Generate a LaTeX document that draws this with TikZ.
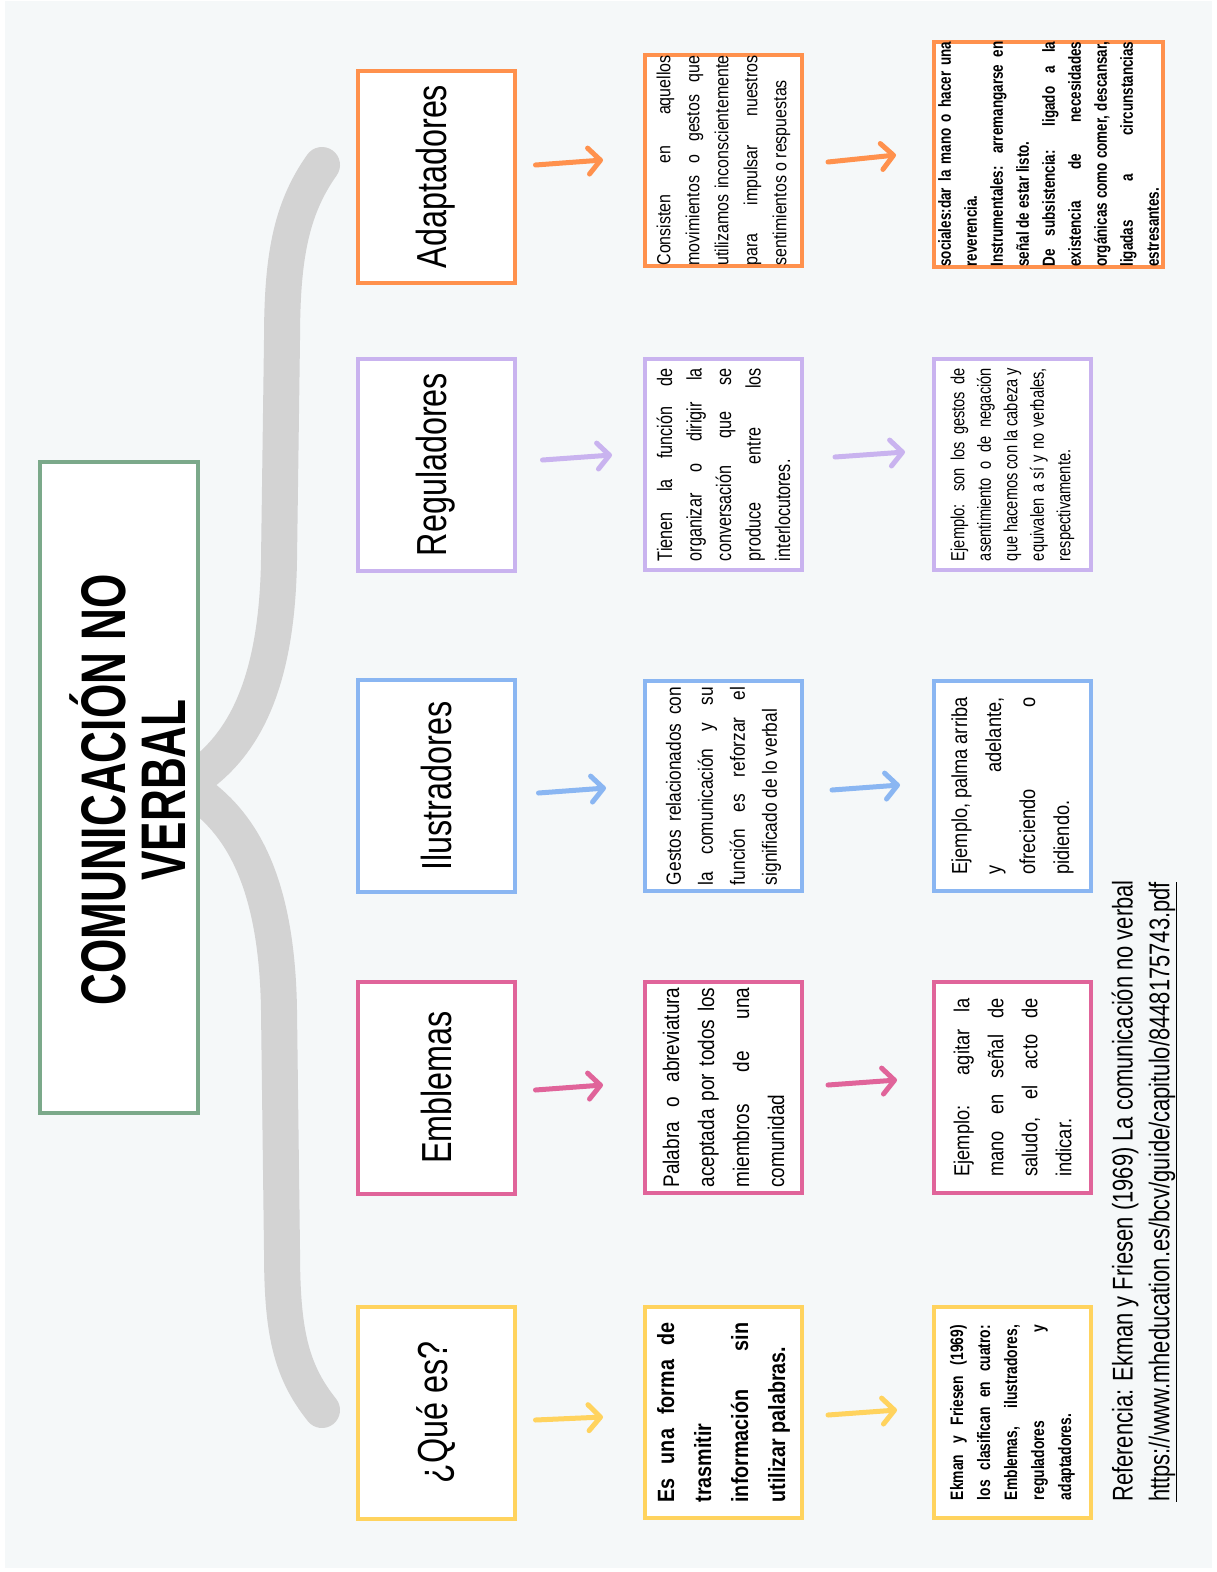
\documentclass[tikz,border=0pt]{standalone}
\usepackage{fontspec}
\usetikzlibrary{arrows.meta,calc}
\newfontfamily\condf[FakeStretch=0.77]{Liberation Sans}
\newfontfamily\bodyf[FakeStretch=0.84]{Liberation Sans}
\newfontfamily\titlef[FakeStretch=0.70]{Liberation Sans}
\definecolor{bgc}{HTML}{F5F8F9}
\definecolor{braceg}{HTML}{D3D3D3}
\definecolor{cor}{HTML}{FF914D}
\definecolor{clav}{HTML}{C9B3EF}
\definecolor{cblu}{HTML}{8AB6F2}
\definecolor{cpin}{HTML}{E0649A}
\definecolor{cyel}{HTML}{FFD35E}
\definecolor{cgrn}{HTML}{7BA98A}
\newcommand\JU[2]{\makebox[#1pt][s]{#2}}
\newcommand\LE[2]{\makebox[#1pt][l]{#2}}
\tikzset{
  hbox/.style={draw=#1, line width=4pt, fill=white, rotate=90, inner sep=0pt,
    minimum width=212pt, minimum height=157pt, font=\condf\fontsize{42}{50}\selectfont},
  tbox/.style={draw=#1, line width=4pt, fill=white, rotate=90, inner sep=0pt, align=left},
  arr/.style={draw=#1, line width=5pt, line cap=round,
    -{Straight Barb[round,length=12pt,width=26pt]}},
  brace/.style={draw=braceg, line width=36pt, line cap=round},
}
\begin{document}
\begin{tikzpicture}[x=1pt,y=-1pt]
\useasboundingbox (0,0) rectangle (1216,1572);
\fill[white] (0,0) rectangle (1216,1572);
\fill[bgc] (5,1) rectangle (1212,1568);
% brace
\draw[brace] (322,165) .. controls (290,210) and (282,260) .. (282,340) -- (279,560) .. controls (277,690) and (240,745) .. (200,775);
\draw[brace] (200,795) .. controls (240,825) and (277,880) .. (279,1010) -- (282,1250) .. controls (282,1330) and (290,1370) .. (322,1410);
% title
\node[draw=cgrn, line width=4pt, fill=white, minimum width=158pt, minimum height=651pt, inner sep=0pt] (titlebox) at (119,787.5) {};
\node[rotate=90, align=center, inner sep=0pt, font=\titlef\bfseries\fontsize{63}{60}\selectfont] (title) at (128,790)
  {COMUNICACIÓN NO\\VERBAL};
% column 1
\node[hbox=cor] (h1) at (436,176.5) {Adaptadores};
\node[hbox=clav] (h2) at (436,464.5) {Reguladores};
\node[hbox=cblu] (h3) at (436,786) {Ilustradores};
\node[hbox=cpin] (h4) at (436,1087.5) {Emblemas};
\node[hbox=cyel] (h5) at (436,1412.5) {¿Qué es?};
% column 2
\node[tbox=cor, minimum width=211pt, minimum height=157pt, font=\bodyf\fontsize{19}{29}\selectfont] (d1) at (723.5,160.5)
 {\JU{210}{Consisten en aquellos}\\\JU{210}{movimientos o gestos que}\\\JU{210}{utilizamos inconscientemente}\\\JU{210}{para impulsar nuestros}\\\LE{210}{sentimientos o respuestas}};
\node[tbox=clav, minimum width=211pt, minimum height=157pt, font=\condf\fontsize{21}{29.5}\selectfont] (d2) at (723.5,464.5)
 {\JU{193}{Tienen la función de}\\\JU{193}{organizar o dirigir la}\\\JU{193}{conversación que se}\\\JU{193}{produce entre los}\\\LE{193}{interlocutores.}};
\node[tbox=cblu, minimum width=210pt, minimum height=157pt, font=\bodyf\fontsize{20.6}{32}\selectfont] (d3) at (723.5,786)
 {\JU{198}{Gestos relacionados con}\\\JU{198}{la comunicación y su}\\\JU{198}{función es reforzar el}\\\LE{198}{significado de lo verbal}};
\node[tbox=cpin, minimum width=211pt, minimum height=157pt, font=\bodyf\fontsize{22.6}{35}\selectfont] (d4) at (723.5,1087.5)
 {\JU{200}{Palabra o abreviatura}\\\JU{200}{aceptada por todos los}\\\JU{200}{miembros de una}\\\LE{200}{comunidad}};
\node[tbox=cyel, minimum width=211pt, minimum height=157pt, font=\bodyf\bfseries\fontsize{23.5}{37}\selectfont] (d5) at (723.5,1412.5)
 {\JU{180}{Es una forma de}\\\LE{180}{trasmitir}\\\JU{180}{información sin}\\\LE{180}{utilizar palabras.}};
% column 3
\node[tbox=cor, minimum width=224pt, minimum height=229pt, font=\condf\bfseries\fontsize{17.5}{26}\selectfont] (e1) at (1048.5,154)
 {\JU{225}{sociales:dar la mano o hacer una}\\\LE{225}{reverencia.}\\\JU{225}{Instrumentales: arremangarse en}\\\LE{225}{señal de estar listo.}\\\JU{225}{De subsistencia: ligado a la}\\\JU{225}{existencia de necesidades}\\\JU{225}{orgánicas como comer, descansar,}\\\JU{225}{ligadas a circunstancias}\\\LE{225}{estresantes.}};
\node[tbox=clav, minimum width=211pt, minimum height=157pt, font=\condf\fontsize{19}{26.5}\selectfont] (e2) at (1012.5,464.5)
 {\JU{193}{Ejemplo: son los gestos de}\\\JU{193}{asentimiento o de negación}\\\JU{193}{que hacemos con la cabeza y}\\\JU{193}{equivalen a sí y no verbales,}\\\LE{193}{respectivamente.}};
\node[tbox=cblu, minimum width=210pt, minimum height=157pt, font=\bodyf\fontsize{21.7}{34}\selectfont] (e3) at (1012.5,786)
 {\JU{177}{Ejemplo, palma arriba}\\\JU{177}{y adelante,}\\\JU{177}{ofreciendo o}\\\LE{177}{pidiendo.}};
\node[tbox=cpin, minimum width=211pt, minimum height=157pt, font=\bodyf\fontsize{21.7}{34}\selectfont] (e4) at (1012.5,1087.5)
 {\JU{178}{Ejemplo: agitar la}\\\JU{178}{mano en señal de}\\\JU{178}{saludo, el acto de}\\\LE{178}{indicar.}};
\node[tbox=cyel, minimum width=211pt, minimum height=157pt, font=\condf\bfseries\fontsize{18}{27}\selectfont] (e5) at (1012.5,1412.5)
 {\JU{175}{Ekman y Friesen (1969)}\\\JU{175}{los clasifican en cuatro:}\\\JU{175}{Emblemas, ilustradores,}\\\JU{175}{reguladores y}\\\LE{175}{adaptadores.}};
% arrows
\draw[arr=cor] ($(h1.south)+(19,-11.5)$) -- ($(d1.north)+(-40,-0.5)$);
\draw[arr=cor] ($(d1.south)+(24,1.5)$) -- ($(e1.north)+(-36,1)$);
\draw[arr=clav] ($(h2.south)+(26,-4.5)$) -- ($(d2.north)+(-31,-9.5)$);
\draw[arr=clav] ($(d2.south)+(31,-7.5)$) -- ($(e2.north)+(-27,-12.5)$);
\draw[arr=cblu] ($(h3.south)+(22,7)$) -- ($(d3.north)+(-37,2)$);
\draw[arr=cblu] ($(d3.south)+(28,4)$) -- ($(e3.north)+(-32,-1)$);
\draw[arr=cpin] ($(h4.south)+(19,2.5)$) -- ($(d4.north)+(-40,-2.5)$);
\draw[arr=cpin] ($(d4.south)+(24,-2.5)$) -- ($(e4.north)+(-35,-7.5)$);
\draw[arr=cyel] ($(h5.south)+(19,7.5)$) -- ($(d5.north)+(-40,4.5)$);
\draw[arr=cyel] ($(d5.south)+(24,2.5)$) -- ($(e5.north)+(-35,-2.5)$);
% reference
\node[rotate=90, anchor=west, inner sep=0pt, font=\condf\fontsize{28.5}{34}\selectfont] (ref1) at (1125,1502)
 {Referencia: Ekman y Friesen (1969) La comunicación no verbal};
\node[rotate=90, anchor=west, inner sep=0pt, font=\condf\fontsize{28.5}{34}\selectfont] (ref2) at (1163,1502)
 {\underline{https://www.mheducation.es/bcv/guide/capitulo/8448175743.pdf}};
\end{tikzpicture}
\end{document}
